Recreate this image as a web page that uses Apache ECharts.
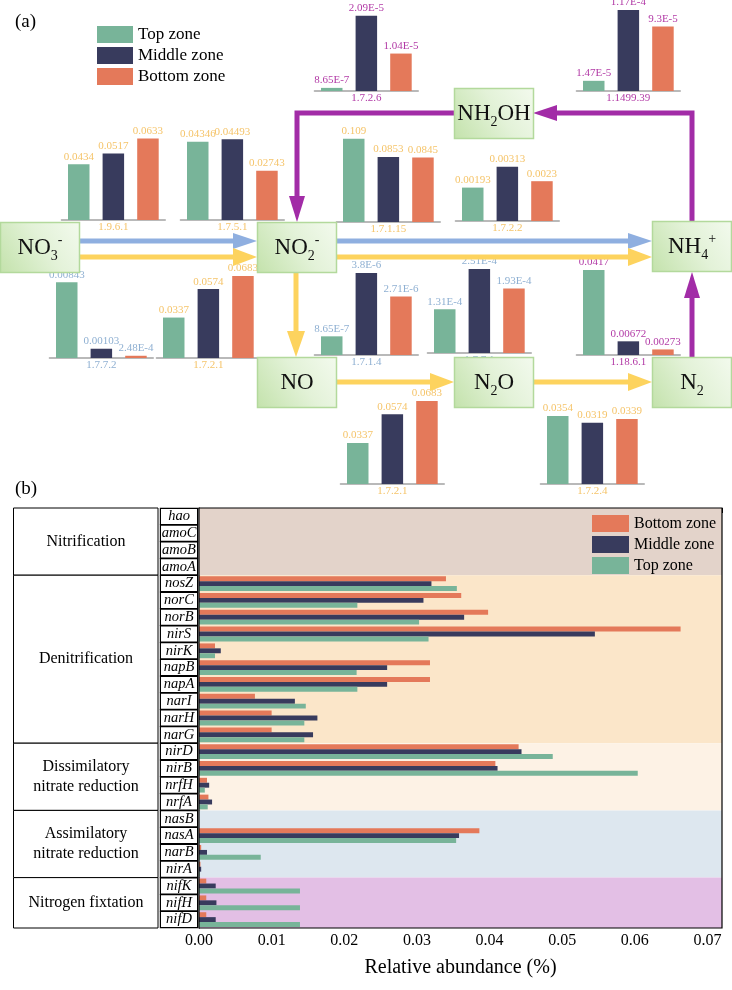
<!DOCTYPE html>
<html><head><meta charset="utf-8">
<script src="https://cdn.jsdelivr.net/npm/echarts@6/dist/echarts.min.js"></script>
<style>html,body{margin:0;padding:0;background:#fff}#c{width:732px;height:990px}</style>
</head><body><div id="c"></div>
<script>
// ---------- data ----------
const zones = ['Top zone', 'Middle zone', 'Bottom zone'];

// panel (a): EC numbers and relative abundance per zone (Top, Middle, Bottom)
const miniLabels = ['1.9.6.1', '1.7.5.1', '1.7.2.6', '1.1499.39', '1.7.1.15', '1.7.2.2',
  '1.7.7.2', '1.7.2.1', '1.7.1.4', '1.7.7.1', '1.18.6.1', '1.7.2.1', '1.7.2.4'];
const miniValues = [
  [0.0434, 0.0517, 0.0633],
  [0.04346, 0.04493, 0.02743],
  [8.65e-7, 2.09e-5, 1.04e-5],
  [1.47e-5, 1.17e-4, 9.3e-5],
  [0.109, 0.0853, 0.0845],
  [0.00193, 0.00313, 0.0023],
  [0.00843, 0.00103, 2.48e-4],
  [0.0337, 0.0574, 0.0683],
  [8.65e-7, 3.8e-6, 2.71e-6],
  [1.31e-4, 2.51e-4, 1.93e-4],
  [0.0417, 0.00672, 0.00273],
  [0.0337, 0.0574, 0.0683],
  [0.0354, 0.0319, 0.0339]
];
const miniAxisMax = [0.07, 0.05, 2.5e-5, 1.3e-4, 0.118, 0.0052, 0.01, 0.075, 4.17e-6, 2.69e-4, 0.0442, 0.074, 0.0469];

// panel (b)
const genes = ['hao', 'amoC', 'amoB', 'amoA', 'nosZ', 'norC', 'norB', 'nirS', 'nirK', 'napB', 'napA',
  'narI', 'narH', 'narG', 'nirD', 'nirB', 'nrfH', 'nrfA', 'nasB', 'nasA', 'narB', 'nirA', 'nifK', 'nifH', 'nifD'];
const topZone = [0, 0, 0, 0, 0.0355, 0.0218, 0.0303, 0.0316, 0.0022, 0.0217, 0.0218, 0.0147, 0.0145, 0.0145,
  0.0487, 0.0604, 0.0008, 0.0012, 0, 0.0354, 0.0085, 0.0001, 0.0139, 0.0139, 0.0139];
const middleZone = [0, 0, 0, 0, 0.0320, 0.0309, 0.0365, 0.0545, 0.0030, 0.0259, 0.0259, 0.0132, 0.0163, 0.0157,
  0.0444, 0.0411, 0.0014, 0.0018, 0, 0.0358, 0.0011, 0.0003, 0.0023, 0.0024, 0.0023];
const bottomZone = [0, 0, 0, 0, 0.0340, 0.0361, 0.0398, 0.0663, 0.0022, 0.0318, 0.0318, 0.0077, 0.0100, 0.0100,
  0.0440, 0.0408, 0.0011, 0.0013, 0, 0.0386, 0.0003, 0.0002, 0.0010, 0.0010, 0.0010];
const groups = ['Nitrification', 'Denitrification', 'Dissimilatory\nnitrate reduction', 'Assimilatory\nnitrate reduction', 'Nitrogen fixtation'];
const groupSizes = [4, 10, 4, 4, 3];
const xTicks = [0, 0.01, 0.02, 0.03, 0.04, 0.05, 0.06, 0.07];

// ---------- styles / layout ----------
const FONT = '"Liberation Serif", "Times New Roman", serif';
const zoneColors = ['#78b499', '#383b5d', '#e4795a'];
const labelColors = { y: '#f5c46a', b: '#8fb0d2', m: '#b23aa6' };
const groupColors = ['#e3d3ca', '#fbe6c9', '#fdf2e5', '#dde7ef', '#e3bfe5'];
// [left edge of first bar, baseline y, label colour key]
const miniLayout = [[68, 220, 'y'], [187, 220, 'y'], [321, 91, 'm'], [583, 91, 'm'], [343, 222, 'y'], [462, 221, 'y'],
  [56, 358, 'b'], [163, 358, 'y'], [321, 355, 'b'], [434, 353, 'b'], [583, 355, 'm'], [347, 484, 'y'], [547, 484, 'y']];
const B = { left: 199, top: 508, width: 523, height: 420 };
const rowH = B.height / genes.length;
const X_MAX = 0.072;

function fmt(v) {
  if (v < 0.001) {
    const parts = v.toExponential(2).split('e');
    return parts[0].replace(/\.?0+$/, '') + 'E' + parseInt(parts[1], 10);
  }
  return String(v);
}

const grids = [], xAxes = [], yAxes = [], series = [];

// ---- panel (b) ----
grids.push({ left: B.left, top: B.top, width: B.width, height: B.height });
xAxes.push({
  gridIndex: 0, type: 'value', min: 0, max: X_MAX, interval: 0.01,
  axisLine: { show: true, lineStyle: { color: '#000', width: 1.2 } },
  axisTick: { show: true, length: 5, lineStyle: { color: '#000' } },
  minorTick: { show: true, splitNumber: 5, length: 3, lineStyle: { color: '#000' } },
  splitLine: { show: false }, minorSplitLine: { show: false },
  axisLabel: {
    fontFamily: FONT, fontSize: 16, color: '#000', margin: 5,
    formatter: v => xTicks.some(t => Math.abs(t - v) < 1e-9) ? v.toFixed(2) : ''
  },
  name: 'Relative abundance (%)', nameLocation: 'middle', nameGap: 30,
  nameTextStyle: { fontFamily: FONT, fontSize: 20, color: '#000' }
});
yAxes.push({
  gridIndex: 0, type: 'category', data: genes, inverse: true,
  axisLine: { show: true, lineStyle: { color: '#000', width: 1.2 } },
  axisTick: { show: false },
  axisLabel: {
    interval: 0, fontFamily: FONT, fontStyle: 'italic', fontSize: 14.5, color: '#000',
    align: 'center', margin: 20, width: 36, height: 15, lineHeight: 15,
    backgroundColor: '#fff', borderColor: '#000', borderWidth: 1.2
  }
});
// hidden row-index axis used to place the pathway background bands
yAxes.push({ gridIndex: 0, type: 'value', min: 0, max: genes.length, inverse: true, show: false });

const bandAreas = [];
let acc = 0;
groupSizes.forEach((n, gi) => {
  bandAreas.push([{ xAxis: 0, yAxis: acc, itemStyle: { color: groupColors[gi], opacity: 1 } }, { xAxis: X_MAX, yAxis: acc + n }]);
  acc += n;
});
series.push({
  type: 'line', name: 'band', xAxisIndex: 0, yAxisIndex: 1, silent: true, z: 0,
  data: [[0, 0]], symbol: 'none', lineStyle: { opacity: 0 },
  markArea: { silent: true, data: bandAreas, label: { show: false } }
});
const zoneData = [topZone, middleZone, bottomZone];
[2, 1, 0].forEach(zi => {
  series.push({
    type: 'bar', name: zones[zi], xAxisIndex: 0, yAxisIndex: 0, z: 3,
    barGap: '0%', barCategoryGap: '12%',
    itemStyle: { color: zoneColors[zi] },
    data: zoneData[zi]
  });
});

// ---- panel (a) mini bar charts ----
const BAND = 34.6, BW = 21.5, MH = 90;
miniLabels.forEach((lab, i) => {
  const [lx, base, ck] = miniLayout[i];
  const gi = grids.length;
  const xi = xAxes.length;
  const yi = yAxes.length;
  grids.push({ left: lx + BW / 2 - BAND / 2, top: base - MH, width: BAND * 3, height: MH });
  xAxes.push({
    gridIndex: gi, type: 'category', data: zones,
    axisLine: { show: true, lineStyle: { color: '#a3a3a3', width: 1.5 } },
    axisTick: { show: false }, axisLabel: { show: false },
    name: lab, nameLocation: 'middle', nameGap: 2,
    nameTextStyle: { color: labelColors[ck], fontFamily: FONT, fontSize: 11 }
  });
  yAxes.push({ gridIndex: gi, type: 'value', min: 0, max: miniAxisMax[i], show: false });
  series.push({
    type: 'bar', name: 'ec' + i, xAxisIndex: xi, yAxisIndex: yi, barWidth: BW,
    data: miniValues[i].map((v, j) => ({ value: v, itemStyle: { color: zoneColors[j] } })),
    label: {
      show: true, position: 'top', distance: 2, color: labelColors[ck],
      fontFamily: FONT, fontSize: 11, formatter: p => fmt(p.value)
    }
  });
});

// ---- graphics ----
const graphics = [];
const BLUE = '#8fafe0', YEL = '#fdd35e', MAG = '#a22ca7';
function arrowH(x1, x2, y, c, hl, hw) {
  const d = Math.sign(x2 - x1);
  graphics.push({ type: 'line', z: 5, silent: true, shape: { x1: x1, y1: y, x2: x2 - d * hl, y2: y }, style: { stroke: c, lineWidth: 5 } });
  graphics.push({ type: 'polygon', z: 5, silent: true, shape: { points: [[x2, y], [x2 - d * hl, y - hw], [x2 - d * hl, y + hw]] }, style: { fill: c } });
}
function arrowV(x, y1, y2, c, hl, hw) {
  const d = Math.sign(y2 - y1);
  graphics.push({ type: 'line', z: 5, silent: true, shape: { x1: x, y1: y1, x2: x, y2: y2 - d * hl }, style: { stroke: c, lineWidth: 5 } });
  graphics.push({ type: 'polygon', z: 5, silent: true, shape: { points: [[x, y2], [x - hw, y2 - d * hl], [x + hw, y2 - d * hl]] }, style: { fill: c } });
}
arrowH(79, 257, 241, BLUE, 24, 8);
arrowH(79, 257, 257, YEL, 24, 9);
arrowH(336, 652, 241, BLUE, 24, 8);
arrowH(336, 652, 257, YEL, 24, 9);
arrowV(296, 272, 357, YEL, 26, 9);
arrowH(336, 454, 382, YEL, 24, 9);
arrowH(533, 652, 382, YEL, 24, 9);
arrowV(692, 357, 272, MAG, 26, 8);
graphics.push({ type: 'polyline', z: 5, silent: true, shape: { points: [[692, 221], [692, 113], [557, 113]] }, style: { stroke: MAG, lineWidth: 5, fill: null } });
graphics.push({ type: 'polygon', z: 5, silent: true, shape: { points: [[533, 113], [557, 105], [557, 121]] }, style: { fill: MAG } });
graphics.push({ type: 'polyline', z: 5, silent: true, shape: { points: [[454, 113], [297, 113], [297, 196]] }, style: { stroke: MAG, lineWidth: 5, fill: null } });
graphics.push({ type: 'polygon', z: 5, silent: true, shape: { points: [[297, 222], [289, 196], [305, 196]] }, style: { fill: MAG } });

const boxes = [
  { t: '{m|NO}{s|3}{p|-}', x: 0, y: 222 },
  { t: '{m|NO}{s|2}{p|-}', x: 257, y: 222 },
  { t: '{m|NH}{s|4}{p|+}', x: 652, y: 221 },
  { t: '{m|NO}', x: 257, y: 357 },
  { t: '{m|N}{s|2}{m|O}', x: 454, y: 357 },
  { t: '{m|N}{s|2}', x: 652, y: 357 },
  { t: '{m|NH}{s|2}{m|OH}', x: 454, y: 88 }
];
const rich = {
  m: { fontSize: 23, fontFamily: FONT, fill: '#111', lineHeight: 30 },
  s: { fontSize: 14, fontFamily: FONT, fill: '#111', verticalAlign: 'bottom' },
  p: { fontSize: 14, fontFamily: FONT, fill: '#111', verticalAlign: 'top' }
};
boxes.forEach(b => {
  graphics.push({
    type: 'rect', z: 10, silent: true, shape: { x: b.x + 0.5, y: b.y + 0.5, width: 79, height: 50 },
    style: {
      fill: { type: 'linear', x: 0, y: 1, x2: 1, y2: 0, colorStops: [
        { offset: 0, color: '#c3e2ab' }, { offset: 0.55, color: '#e3f2d8' }, { offset: 1, color: '#f3faee' }] },
      stroke: '#b3d99c', lineWidth: 1.5
    }
  });
  graphics.push({
    type: 'text', z: 11, silent: true, x: b.x + 40, y: b.y + 26,
    style: { text: b.t, rich: rich, align: 'center', verticalAlign: 'middle' }
  });
});
graphics.push({ type: 'text', silent: true, x: 15, y: 22, style: { text: '(a)', fontFamily: FONT, fontSize: 19, fill: '#000', verticalAlign: 'middle' } });
graphics.push({ type: 'text', silent: true, x: 15, y: 489, style: { text: '(b)', fontFamily: FONT, fontSize: 19, fill: '#000', verticalAlign: 'middle' } });

// panel (b) group table
let start = 0;
groups.forEach((g, gi) => {
  const y0 = B.top + start * rowH, h = groupSizes[gi] * rowH;
  graphics.push({ type: 'rect', z: 8, silent: true, shape: { x: 13.5, y: y0, width: 144.5, height: h }, style: { fill: '#fff', stroke: '#000', lineWidth: 1 } });
  graphics.push({
    type: 'text', z: 9, silent: true, x: 86, y: y0 + h / 2,
    style: { text: g, fontFamily: FONT, fontSize: 16, fill: '#000', align: 'center', verticalAlign: 'middle', lineHeight: 20 }
  });
  start += groupSizes[gi];
});
graphics.push({ type: 'rect', z: 20, silent: true, shape: { x: B.left, y: B.top, width: B.width, height: B.height }, style: { fill: null, stroke: '#000', lineWidth: 1.2 } });

const legendText = { fontFamily: FONT, color: '#000' };
const option = {
  animation: false,
  backgroundColor: '#fff',
  grid: grids, xAxis: xAxes, yAxis: yAxes, series: series,
  legend: [
    { data: zones, left: 92, top: 21, orient: 'vertical', icon: 'rect', itemWidth: 36, itemHeight: 17, itemGap: 4,
      textStyle: Object.assign({ fontSize: 17 }, legendText) },
    { data: zones.slice().reverse(), left: 587, top: 510, orient: 'vertical', icon: 'rect', itemWidth: 37, itemHeight: 17, itemGap: 4,
      textStyle: Object.assign({ fontSize: 16 }, legendText), z: 30 }
  ],
  graphic: { elements: graphics }
};
const chart = echarts.init(document.getElementById('c'), null, { renderer: 'canvas' });
chart.setOption(option);
</script>
</body></html>
